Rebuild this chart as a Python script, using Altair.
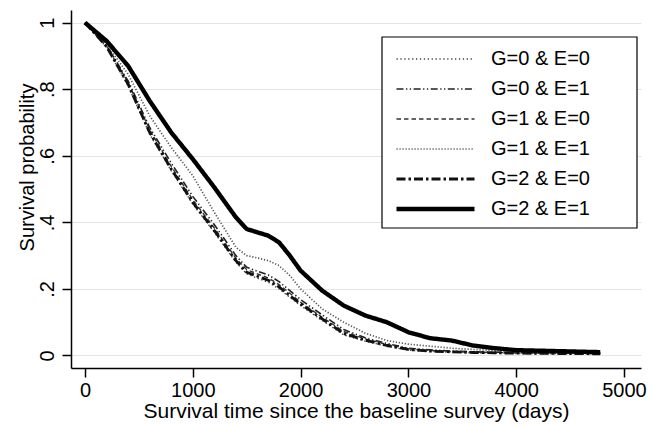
import altair as alt
import pandas as pd

days = [0, 200, 400, 600, 800, 1000, 1200, 1400, 1500, 1600, 1700, 1800, 1900,
        2000, 2200, 2400, 2600, 2800, 3000, 3200, 3400, 3600, 3800, 4000, 4400, 4780]

g0e0 = [1.0, 0.925, 0.81, 0.665, 0.555, 0.455, 0.37, 0.28, 0.245, 0.232, 0.22, 0.2, 0.175,
        0.15, 0.105, 0.062, 0.043, 0.028, 0.016, 0.012, 0.01, 0.008, 0.007, 0.006, 0.005, 0.005]
g0e1 = [1.0, 0.932, 0.825, 0.685, 0.578, 0.478, 0.393, 0.3, 0.265, 0.253, 0.242, 0.222, 0.195,
        0.168, 0.122, 0.078, 0.053, 0.036, 0.022, 0.017, 0.013, 0.011, 0.01, 0.009, 0.008, 0.006]
g1e0 = [1.0, 0.93, 0.82, 0.678, 0.568, 0.468, 0.383, 0.292, 0.258, 0.245, 0.233, 0.213, 0.187,
        0.16, 0.115, 0.072, 0.05, 0.033, 0.02, 0.015, 0.012, 0.01, 0.009, 0.008, 0.007, 0.006]
g1e1 = [1.0, 0.935, 0.845, 0.72, 0.625, 0.54, 0.43, 0.325, 0.3, 0.293, 0.285, 0.27, 0.24,
        0.2, 0.14, 0.1, 0.067, 0.045, 0.034, 0.028, 0.022, 0.018, 0.015, 0.012, 0.01, 0.008]
g2e0 = [1.0, 0.928, 0.815, 0.67, 0.56, 0.46, 0.375, 0.285, 0.25, 0.238, 0.226, 0.206, 0.18,
        0.155, 0.11, 0.066, 0.046, 0.03, 0.018, 0.013, 0.011, 0.009, 0.008, 0.007, 0.006, 0.005]
g2e1 = [1.0, 0.945, 0.87, 0.765, 0.67, 0.59, 0.505, 0.415, 0.38, 0.37, 0.36, 0.34, 0.30,
        0.255, 0.195, 0.15, 0.12, 0.10, 0.07, 0.052, 0.045, 0.03, 0.022, 0.016, 0.013, 0.01]

groups = ["G=0 & E=0", "G=0 & E=1", "G=1 & E=0", "G=1 & E=1", "G=2 & E=0", "G=2 & E=1"]
series = [g0e0, g0e1, g1e0, g1e1, g2e0, g2e1]

x_ticks = [0, 1000, 2000, 3000, 4000, 5000]
y_ticks = [0, 0.2, 0.4, 0.6, 0.8, 1]

rows = []
for g, vals in zip(groups, series):
    for d, v in zip(days, vals):
        rows.append({"group": g, "days": d, "surv": v})
df = pd.DataFrame(rows)

dashes = [[1.3, 2.6], [7, 2.5, 1.3, 2.5, 1.3, 2.5], [4.5, 3], [1.2, 1.8], [9, 3, 2.5, 3], [1, 0]]
widths = [1.4, 1.6, 1.4, 1.7, 2.8, 4.4]
colors = ["#444444", "#222222", "#333333", "#555555", "#111111", "#000000"]

FONT = "Liberation Sans"

x_enc = alt.X("days:Q",
              scale=alt.Scale(domain=[-129.9, 5158], nice=False, zero=False),
              axis=alt.Axis(values=x_ticks, format="d", grid=False,
                            title="Survival time since the baseline survey (days)",
                            tickSize=9, labelPadding=3, labelFontSize=20,
                            titleFontSize=21, titleFontWeight="normal",
                            titleY=32, titleBaseline="top"))
y_enc = alt.Y("surv:Q",
              scale=alt.Scale(domain=[-0.0376, 1.038], nice=False, zero=False),
              axis=alt.Axis(values=y_ticks, grid=True, gridColor="#e4e4e4", gridWidth=1,
                            labelExpr="datum.value == 0 ? '0' : (datum.value == 1 ? '1' : replace(format(datum.value, '.1f'), '0.', '.'))",
                            labelAngle=270, labelAlign="center", labelBaseline="alphabetic",
                            tickSize=9, labelPadding=9, labelFontSize=20,
                            title="Survival probability", titleFontSize=20, titleFontWeight="normal",
                            titleX=-38, titleY=157, titleAngle=270, titleBaseline="alphabetic",
                            titleAlign="center"))

# legend frame (layout decoration)
frame = alt.Chart(pd.DataFrame({"k": [0]})).mark_rect(
    fill="white", stroke="black", strokeWidth=1.2
).encode(x=alt.value(311), x2=alt.value(566), y=alt.value(27), y2=alt.value(218))

lines = alt.Chart(df).mark_line(clip=True, strokeCap="butt", strokeJoin="round").encode(
    x=x_enc,
    y=y_enc,
    color=alt.Color("group:N", scale=alt.Scale(domain=groups, range=colors),
                    legend=alt.Legend(title=None)),
    strokeDash=alt.StrokeDash("group:N", scale=alt.Scale(domain=groups, range=dashes),
                              legend=alt.Legend(title=None)),
    strokeWidth=alt.StrokeWidth("group:N",
                                scale=alt.Scale(type="ordinal", domain=groups, range=widths),
                                legend=alt.Legend(title=None)),
)

chart = alt.layer(frame, lines).properties(
    width=570, height=358,
    autosize=alt.AutoSizeParams(type="none"),
    padding={"left": 63, "top": 2, "right": 8, "bottom": 56},
).configure_view(
    stroke=None
).configure_axis(
    domainColor="black", domainWidth=1.5, tickColor="black", tickWidth=1.5,
    labelColor="black", titleColor="black", labelFont=FONT, titleFont=FONT,
).configure_legend(
    orient="none", legendX=311, legendY=27,
    padding=12, rowPadding=10, clipHeight=20,
    symbolType="stroke", symbolSize=6084, symbolOffset=0,
    labelFont=FONT, labelFontSize=20, labelColor="black", labelOffset=14,
    labelLimit=300,
)

chart.save("out.html", embed_options={"renderer": "svg", "actions": False})
